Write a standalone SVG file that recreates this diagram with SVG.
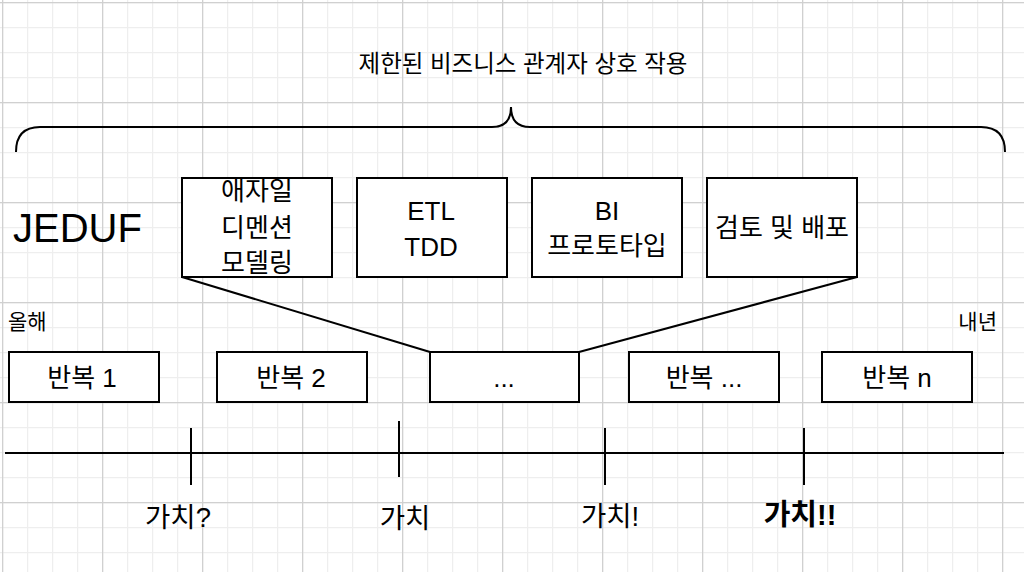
<svg xmlns="http://www.w3.org/2000/svg" width="1024" height="572" viewBox="0 0 1024 572">
<defs>
<pattern id="minor" x="2" y="2" width="25" height="25" patternUnits="userSpaceOnUse">
<path d="M0.5,0 V25 M0,0.5 H25" stroke="#eeeeee" stroke-width="1.5" fill="none"/>
</pattern>
<pattern id="major" x="2" y="2" width="100" height="100" patternUnits="userSpaceOnUse">
<path d="M0.5,0 V100 M0,0.5 H100" stroke="#d0d0d0" stroke-width="1.5" fill="none"/>
</pattern>
</defs>
<style>
.t{font-family:"Liberation Sans","Noto Sans CJK KR",Arial,sans-serif;fill:#000;text-anchor:middle}
.m{font-size:26px}
.box{fill:#fff;stroke:#000;stroke-width:2}
.ln{stroke:#000;stroke-width:2;fill:none}
</style>
<rect width="1024" height="572" fill="#fff"/>
<rect width="1024" height="572" fill="url(#minor)"/>
<rect width="1024" height="572" fill="url(#major)"/>

<text class="t" x="523" y="72" font-size="23.5">제한된 비즈니스 관계자 상호 작용</text>
<text class="t" x="13" y="242" font-size="40" style="text-anchor:start">JEDUF</text>
<text class="t" x="8" y="329" font-size="21" style="text-anchor:start">올해</text>
<text class="t" x="997" y="329" font-size="21" style="text-anchor:end">내년</text>

<g id="connectors">
<path class="ln" d="M16,152 Q16,127 40,127 L492,127 Q511,127 511,107 Q511,127 530,127 L981,127 Q1005,127 1005,152"/>
<path class="ln" d="M182,277 L430,352"/>
<path class="ln" d="M857,277 L579,352"/>
<path class="ln" d="M5,453 H1004"/>
<path class="ln" d="M191,428 V485 M399,421 V477 M605,428 V485 M804,428 V485"/>
</g>

<g id="n-agile">
<rect class="box" x="182" y="178" width="150" height="99"/>
<text class="t m" x="257" y="200">애자일</text>
<text class="t m" x="257" y="237">디멘션</text>
<text class="t m" x="257" y="272">모델링</text>
</g>
<g id="n-etl">
<rect class="box" x="357" y="178" width="150" height="99"/>
<text class="t m" x="431" y="220">ETL</text>
<text class="t m" x="431" y="256">TDD</text>
</g>
<g id="n-bi">
<rect class="box" x="532" y="178" width="150" height="99"/>
<text class="t m" x="607" y="220">BI</text>
<text class="t m" x="607" y="255">프로토타입</text>
</g>
<g id="n-review">
<rect class="box" x="707" y="178" width="150" height="99"/>
<text class="t m" x="782" y="237">검토 및 배포</text>
</g>

<g id="n-it1">
<rect class="box" x="9" y="352" width="150" height="50"/>
<text class="t m" x="82" y="387">반복 1</text>
</g>
<g id="n-it2">
<rect class="box" x="217" y="352" width="150" height="50"/>
<text class="t m" x="291" y="387">반복 2</text>
</g>
<g id="n-it3">
<rect class="box" x="430" y="352" width="149" height="50"/>
<text class="t m" x="504" y="387">...</text>
</g>
<g id="n-it4">
<rect class="box" x="629" y="352" width="150" height="50"/>
<text class="t m" x="704" y="387">반복 ...</text>
</g>
<g id="n-itn">
<rect class="box" x="822" y="352" width="150" height="50"/>
<text class="t m" x="897" y="387">반복 n</text>
</g>

<g id="labels">
<text class="t" x="178" y="527" font-size="27.5">가치?</text>
<text class="t" x="405" y="528" font-size="27.5">가치</text>
<text class="t" x="610" y="526" font-size="27.5">가치!</text>
<text class="t" x="800" y="525" font-size="29" font-weight="bold">가치!!</text>
</g>
</svg>
